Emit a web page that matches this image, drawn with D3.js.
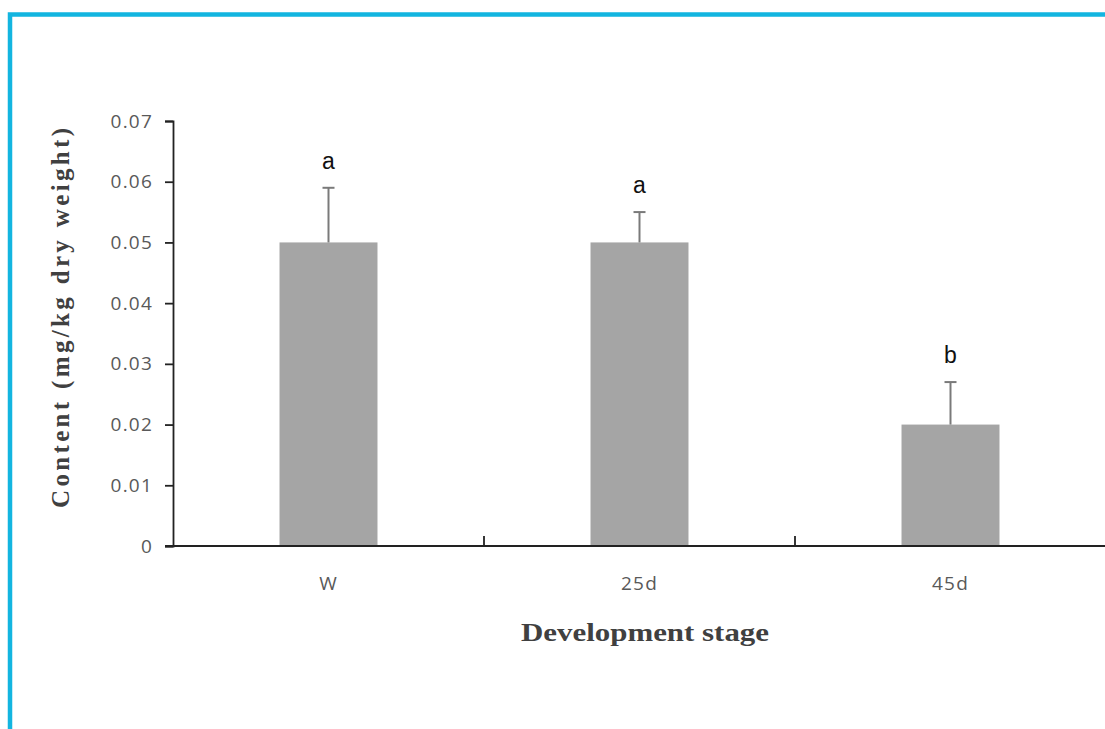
<!DOCTYPE html>
<html>
<head>
<meta charset="utf-8">
<script src="https://cdn.jsdelivr.net/npm/d3@7"></script>
<style>
  html, body { margin: 0; padding: 0; background: #fff; }
  svg { display: block; }
</style>
</head>
<body>
<svg id="chart" width="1105" height="729"></svg>
<script>
// Development stages and measured content (mg/kg dry weight)
const stages = ["W", "25d", "45d"];
const means = [0.05, 0.05, 0.02];
const errors = [0.009, 0.005, 0.007];
const groupLetters = ["a", "a", "b"];
const yTicks = [0, 0.01, 0.02, 0.03, 0.04, 0.05, 0.06, 0.07];

const svg = d3.select("#chart");
const W = 1105, H = 729;

// outer frame
svg.append("path")
  .attr("d", `M10,${H} L10,14.5 L${W},14.5`)
  .attr("fill", "none")
  .attr("stroke", "#13b5e0")
  .attr("stroke-width", 4.5);

const x0 = 173, plotTop = 121, plotBottom = 546;
const x = d3.scaleBand().domain(stages).range([x0, x0 + 311 * 3]).paddingInner(0.685).paddingOuter(0.3425);
const y = d3.scaleLinear().domain([0, 0.07]).range([plotBottom, plotTop]);

// bars
svg.append("g").selectAll("rect").data(stages).join("rect")
  .attr("x", d => x(d))
  .attr("y", (d, i) => y(means[i]))
  .attr("width", x.bandwidth())
  .attr("height", (d, i) => y(0) - y(means[i]))
  .attr("fill", "#a5a5a5");

// error bars (upper only)
const eb = svg.append("g").attr("stroke", "#7a7a7a").attr("stroke-width", 2);
stages.forEach((s, i) => {
  const cx = x(s) + x.bandwidth() / 2;
  const top = y(means[i] + errors[i]);
  eb.append("line").attr("x1", cx).attr("x2", cx).attr("y1", y(means[i])).attr("y2", top);
  eb.append("line").attr("x1", cx - 6).attr("x2", cx + 6).attr("y1", top).attr("y2", top);
});

// significance letters
svg.append("g").selectAll("text").data(stages).join("text")
  .attr("x", d => x(d) + x.bandwidth() / 2)
  .attr("y", (d, i) => y(means[i] + errors[i]) - 19)
  .attr("text-anchor", "middle")
  .attr("font-family", "Liberation Sans, Arial, sans-serif")
  .attr("font-size", 23)
  .attr("fill", "#111")
  .text((d, i) => groupLetters[i]);

const tickFont = "Open Sans, Liberation Sans, sans-serif";

// y axis
const yAxis = svg.append("g")
  .attr("transform", `translate(${x0},0)`)
  .call(d3.axisLeft(y).tickValues(yTicks).tickSize(8).tickPadding(12)
    .tickFormat(d => d === 0 ? "0" : d3.format(".2f")(d)));
yAxis.select(".domain").attr("stroke", "#222").attr("stroke-width", 1.8);
yAxis.selectAll(".tick line").attr("stroke", "#222").attr("stroke-width", 1.8);
yAxis.selectAll(".tick text")
  .attr("font-family", tickFont)
  .attr("font-size", 19).attr("letter-spacing", 1.2).attr("fill", "#595959");

// x axis with category boundary ticks
const xAxis = svg.append("g").attr("transform", `translate(0,${plotBottom})`);
xAxis.append("line").attr("x1", x0 - 8).attr("x2", W).attr("y1", 0).attr("y2", 0)
  .attr("stroke", "#222").attr("stroke-width", 1.8);
const bounds = d3.range(stages.length + 1).map(i => x0 + i * x.step());
xAxis.selectAll(".bound").data(bounds.slice(1)).join("line")
  .attr("class", "bound")
  .attr("x1", d => d).attr("x2", d => d).attr("y1", 0).attr("y2", -10)
  .attr("stroke", "#222").attr("stroke-width", 1.8);
xAxis.selectAll(".lab").data(stages).join("text")
  .attr("class", "lab")
  .attr("x", d => x(d) + x.bandwidth() / 2)
  .attr("y", 44)
  .attr("text-anchor", "middle")
  .attr("font-family", tickFont)
  .attr("font-size", 19).attr("letter-spacing", 1.2).attr("fill", "#595959")
  .text(d => d);

// axis titles
svg.append("text")
  .attr("x", 645).attr("y", 641)
  .attr("text-anchor", "middle")
  .attr("font-family", "Liberation Serif, Times New Roman, serif")
  .attr("font-weight", "bold").attr("font-size", 25).attr("fill", "#404040")
  .attr("textLength", 248).attr("lengthAdjust", "spacingAndGlyphs")
  .text("Development stage");

svg.append("text")
  .attr("transform", "translate(69,318) rotate(-90)")
  .attr("text-anchor", "middle")
  .attr("font-family", "Liberation Serif, Times New Roman, serif")
  .attr("font-weight", "bold").attr("font-size", 25).attr("fill", "#404040")
  .attr("textLength", 380).attr("lengthAdjust", "spacing")
  .text("Content (mg/kg dry weight)");
</script>
</body>
</html>
